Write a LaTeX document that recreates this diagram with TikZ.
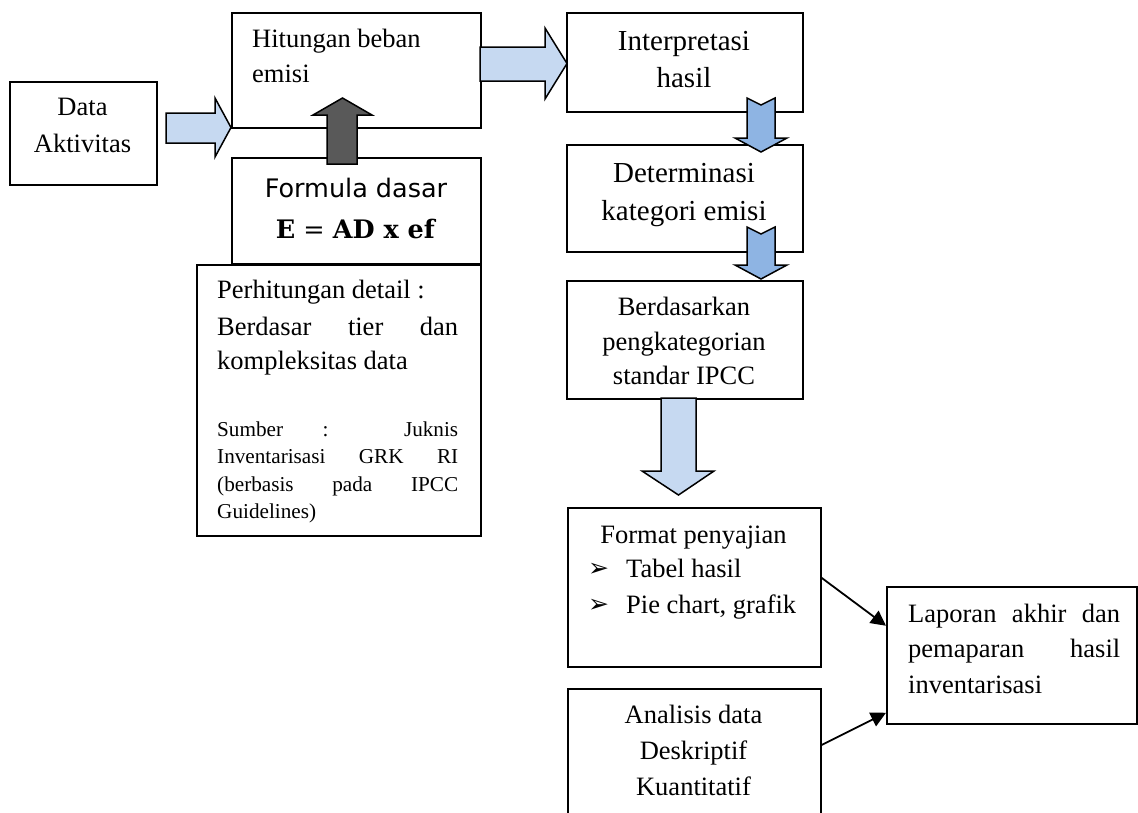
\documentclass[tikz,border=0pt]{standalone}
\usepackage{fontspec}
\setmainfont{Liberation Serif}
\newfontfamily\formfont{DejaVu Sans}
\newfontfamily\eqfont{DejaVu Serif}
\newfontfamily\symfont{DejaVu Sans}
\usetikzlibrary{arrows.meta}

\definecolor{lightblue}{HTML}{C6D9F1}
\definecolor{midblue}{HTML}{8EB4E3}
\definecolor{darkgrey}{HTML}{595959}

\tikzset{
  box/.style={draw=black, line width=1.5pt, fill=white, inner sep=0pt, anchor=north west},
  txt/.style={inner sep=0pt, anchor=base, font=\fontsize{26.5}{36}\selectfont},
  txtl/.style={txt, anchor=base west},
  bigtxt/.style={txt, font=\fontsize{29}{38}\selectfont},
  smalltxt/.style={inner sep=0pt, anchor=base west, font=\fontsize{21.2}{27.5}\selectfont},
  bullet/.style={inner sep=0pt, anchor=base west, font=\symfont\fontsize{25}{28}\selectfont},
  blockarrow/.style={draw=black, line width=1.5pt, line join=miter},
  link/.style={draw=black, line width=1.8pt, -{Triangle[length=15pt,width=15pt]}},
}

\begin{document}
\begin{tikzpicture}[x=1pt, y=-1pt]
\clip (0,0) rectangle (1138,812);
\fill[white] (0,0) rectangle (1138,812);

% ---- boxes ----
\node[box, minimum width=147pt, minimum height=103pt] (data) at (9,81) {};
\node[box, minimum width=249pt, minimum height=115pt] (hit) at (231,12) {};
\node[box, minimum width=284pt, minimum height=271pt] (detail) at (196,264) {};
\node[box, minimum width=249pt, minimum height=106pt] (formula) at (231,157) {};
\node[box, minimum width=236pt, minimum height=99pt] (interp) at (566,12) {};
\node[box, minimum width=236pt, minimum height=107pt] (determ) at (566,144) {};
\node[box, minimum width=236pt, minimum height=118pt] (ipcc) at (566,280) {};
\node[box, minimum width=253pt, minimum height=159pt] (format) at (567,507) {};
\node[box, minimum width=253pt, minimum height=140pt] (analisis) at (567,688) {};
\node[box, minimum width=250pt, minimum height=137pt] (lapor) at (886,586) {};

% ---- texts ----
\node[txt] (tdata1) at (82.5,115) {Data};
\node[txt] (tdata2) at (82.5,152) {Aktivitas};

\node[txtl] (thit1) at (252,47) {Hitungan beban};
\node[txtl] (thit2) at (252,82) {emisi};

\node[inner sep=0pt, anchor=base, font=\formfont\fontsize{25.5}{30}\selectfont] (tform1) at (356,197) {Formula dasar};
\node[inner sep=0pt, anchor=base, font=\eqfont\fontsize{25.5}{30}\selectfont] (tform2) at (356,238) {\textbf{E} = \textbf{AD x ef}};

\node[txtl] (tdet1) at (217,298) {Perhitungan detail :};
\node[txtl] (tdet2) at (217,335) {\makebox[241pt][s]{Berdasar tier dan}};
\node[txtl] (tdet3) at (217,369) {kompleksitas data};
\node[smalltxt] (tsrc1) at (217,436) {\makebox[241pt][s]{Sumber : Juknis}};
\node[smalltxt] (tsrc2) at (217,463.5) {\makebox[241pt][s]{Inventarisasi GRK RI}};
\node[smalltxt] (tsrc3) at (217,491) {\makebox[241pt][s]{(berbasis pada IPCC}};
\node[smalltxt] (tsrc4) at (217,518.5) {Guidelines)};

\node[bigtxt] (tint1) at (684,50) {Interpretasi};
\node[bigtxt] (tint2) at (684,87) {hasil};

\node[bigtxt] (tdtm1) at (684,182) {Determinasi};
\node[bigtxt] (tdtm2) at (684,220) {kategori emisi};

\node[txt] (tipcc1) at (684,315) {Berdasarkan};
\node[txt] (tipcc2) at (684,350) {pengkategorian};
\node[txt] (tipcc3) at (684,384) {standar IPCC};

\node[txt] (tfmt1) at (693.5,543) {Format penyajian};
\node[bullet] (b1) at (588,576) {➢};
\node[txtl] (tfmt2) at (626,577) {Tabel hasil};
\node[bullet] (b2) at (588,612) {➢};
\node[txtl] (tfmt3) at (626,613) {Pie chart, grafik};

\node[txt] (tana1) at (693.5,723) {Analisis data};
\node[txt] (tana2) at (693.5,759) {Deskriptif};
\node[txt] (tana3) at (693.5,795) {Kuantitatif};

\node[txtl] (tlap1) at (908,622) {\makebox[212pt][s]{Laporan akhir dan}};
\node[txtl] (tlap2) at (908,657) {\makebox[212pt][s]{pemaparan hasil}};
\node[txtl] (tlap3) at (908,693) {inventarisasi};

% ---- block arrows ----
% Data Aktivitas -> Hitungan
\filldraw[blockarrow, fill=lightblue]
  (166,113) -- (215,113) -- (215,98) -- (231,127.5) -- (215,157) -- (215,143) -- (166,143) -- cycle;
% Hitungan -> Interpretasi
\filldraw[blockarrow, fill=lightblue]
  (480,47) -- (545,47) -- (545,28) -- (567,63.5) -- (545,99) -- (545,81) -- (480,81) -- cycle;
% Formula dasar -> Hitungan
\filldraw[blockarrow, fill=darkgrey]
  (327,164) -- (327,115) -- (313,115) -- (342.5,98) -- (372,115) -- (357,115) -- (357,164) -- cycle;
% Interpretasi -> Determinasi (notched)
\filldraw[blockarrow, fill=midblue]
  (747,98) -- (761,105) -- (775,98) -- (775,138) -- (787,138) -- (761,152) -- (735,138) -- (747,138) -- cycle;
% Determinasi -> IPCC (notched)
\filldraw[blockarrow, fill=midblue]
  (747,227) -- (761,234) -- (775,227) -- (775,265) -- (787,265) -- (761,279) -- (735,265) -- (747,265) -- cycle;
% IPCC -> Format penyajian
\filldraw[blockarrow, fill=lightblue]
  (661,398) -- (696,398) -- (696,471) -- (714,471) -- (678.5,495) -- (642,471) -- (661,471) -- cycle;

% ---- connectors ----
\draw[link] ([yshift=9.5pt]format.east) -- ([yshift=29.5pt]lapor.west);
\draw[link] ([yshift=-57pt]analisis.north east) -- ([yshift=-57.5pt]lapor.west);
\end{tikzpicture}
\end{document}
